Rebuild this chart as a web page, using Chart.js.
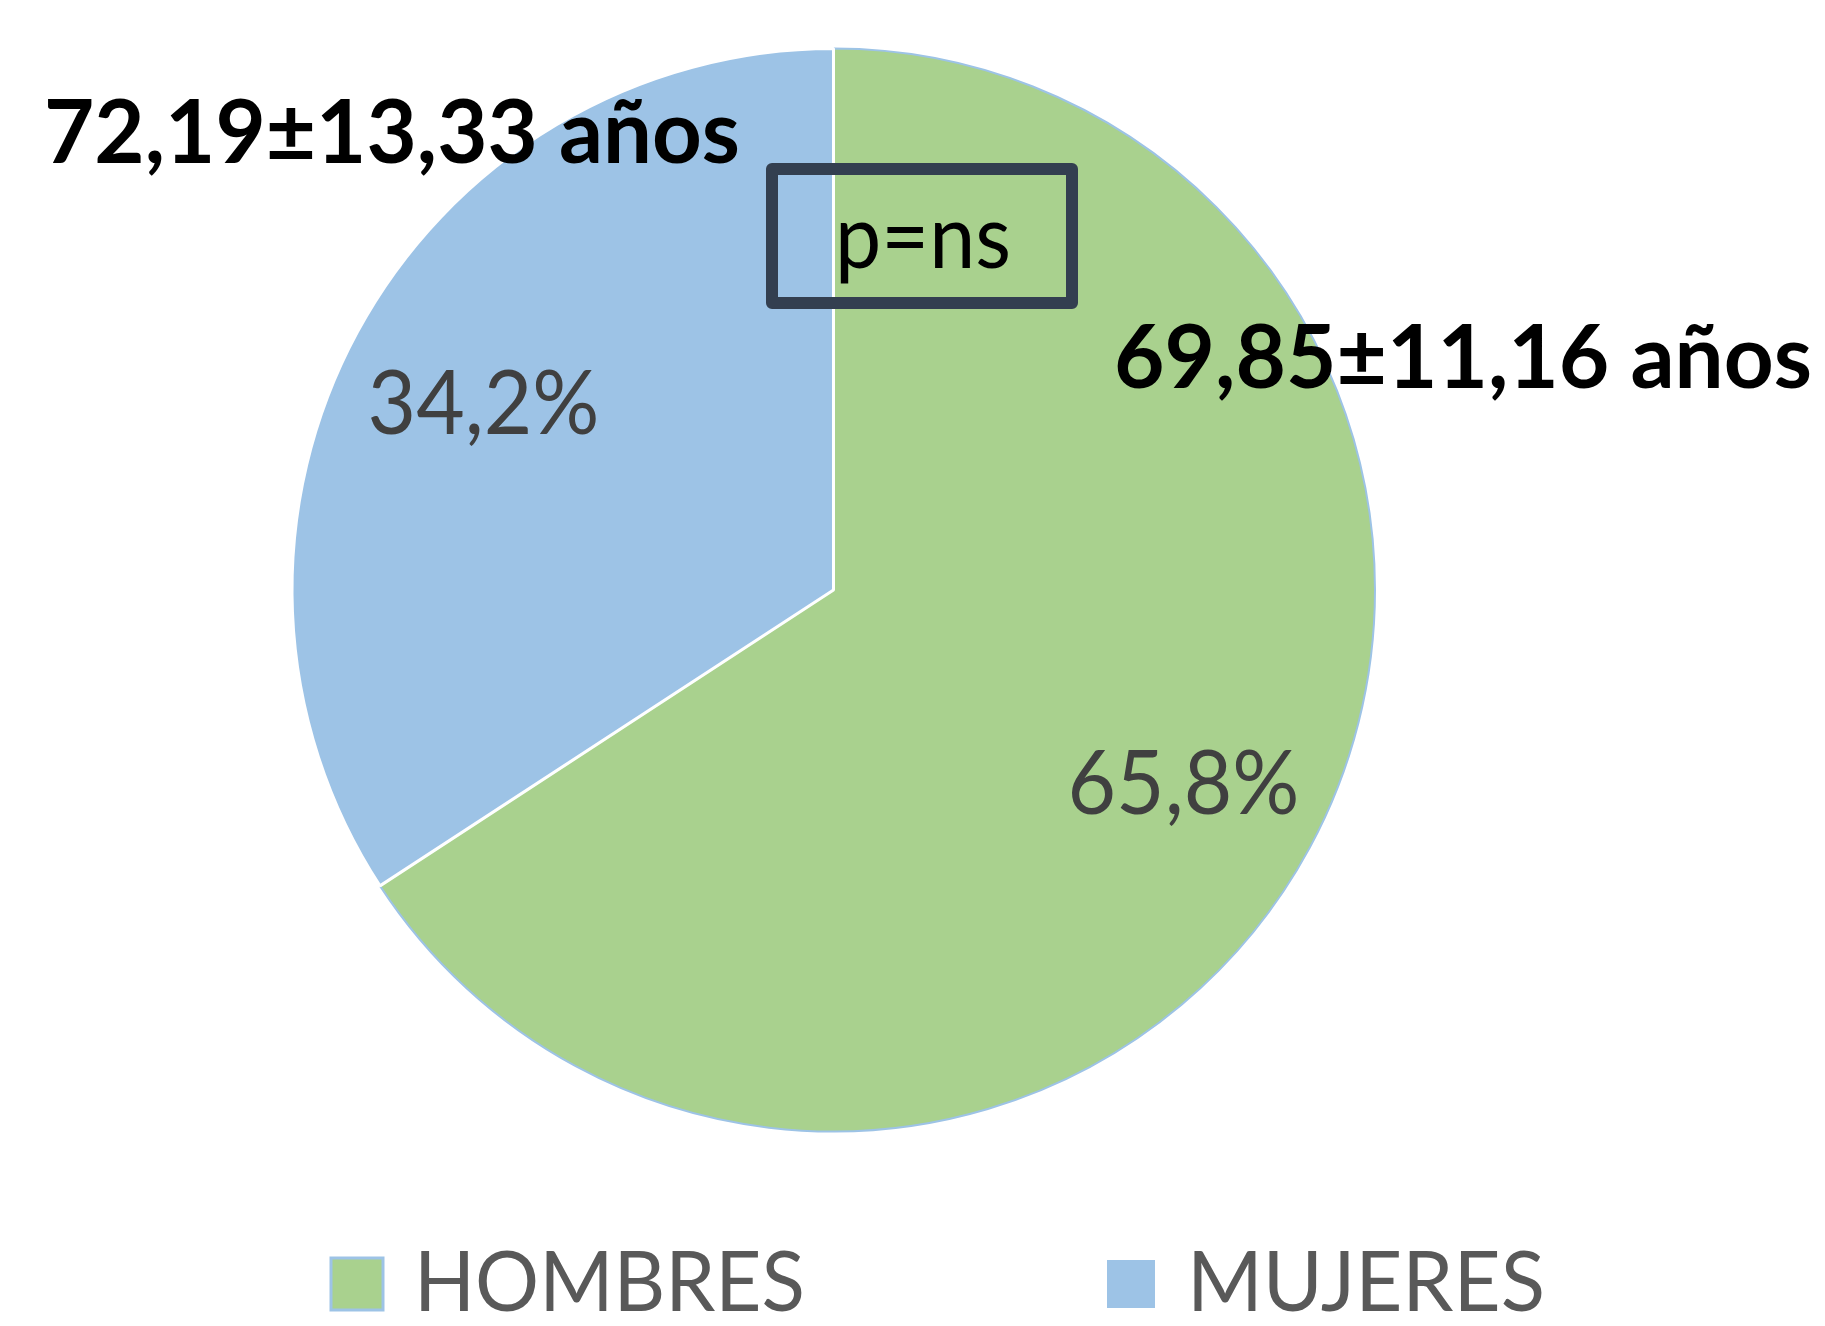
<!DOCTYPE html>
<html>
<head>
<meta charset="utf-8">
<script src="https://cdn.jsdelivr.net/npm/chart.js"></script>
<style>
  html, body { margin: 0; padding: 0; background: #fff; }
  #wrap { width: 1825px; height: 1326px; }
</style>
</head>
<body>
<div id="wrap"><canvas id="grafico"></canvas></div>
<script>
// datos
const categorias = ['HOMBRES', 'MUJERES'];
const porcentajes = [65.8, 34.2];
const edades = ['69,85±11,16 años', '72,19±13,33 años'];
const textoP = 'p=ns';

const colores = ['#A9D18E', '#9DC3E6'];

// texto estirado/comprimido al ancho deseado
function textoAjustado(ctx, texto, x, base, ancho, fuente, color) {
    ctx.save();
    ctx.font = fuente;
    const w = ctx.measureText(texto).width;
    ctx.translate(x, base);
    ctx.scale(ancho / w, 1);
    ctx.fillStyle = color;
    ctx.textBaseline = 'alphabetic';
    ctx.textAlign = 'left';
    ctx.fillText(texto, 0, 0);
    ctx.restore();
}

const etiquetas = {
    id: 'etiquetas',
    afterDraw(chart) {
        const ctx = chart.ctx;
        const arcos = chart.getDatasetMeta(0).data;

        // porcentajes dentro de cada porcion
        arcos.forEach(function (arco, i) {
            const p = arco.getProps(['x', 'y', 'startAngle', 'endAngle', 'outerRadius'], true);
            const medio = (p.startAngle + p.endAngle) / 2;
            const cx = p.x + Math.cos(medio) * p.outerRadius * 0.735;
            const cy = p.y + Math.sin(medio) * p.outerRadius * 0.735;
            const txt = porcentajes[i].toFixed(1).replace('.', ',') + '%';
            textoAjustado(ctx, txt, cx - 116, cy + 34, 232, '90px Lato', '#404040');
        });

        // edades
        textoAjustado(ctx, edades[1], 44, 163, 696, 'bold 88px Lato', '#000');
        textoAjustado(ctx, edades[0], 1114, 388, 698, 'bold 88px Lato', '#000');

        // recuadro p=ns
        ctx.save();
        ctx.strokeStyle = '#333F50';
        ctx.lineWidth = 12;
        ctx.lineJoin = 'round';
        ctx.strokeRect(772, 169, 300, 134);
        ctx.restore();
        textoAjustado(ctx, textoP, 835, 268, 176, '90px Lato', '#000');

        // leyenda
        ctx.save();
        ctx.fillStyle = colores[0];
        ctx.fillRect(331, 1258, 52, 52);
        ctx.strokeStyle = colores[1];
        ctx.lineWidth = 3;
        ctx.strokeRect(331, 1258, 52, 52);
        ctx.fillStyle = colores[1];
        ctx.fillRect(1107, 1260, 48, 48);
        ctx.restore();
        textoAjustado(ctx, categorias[0], 414, 1311, 391, '84px Lato', '#595959');
        textoAjustado(ctx, categorias[1], 1187, 1311, 358, '84px Lato', '#595959');
    }
};

const grafico = document.getElementById('grafico');

new Chart(grafico, {
    type: 'pie',
    data: {
        labels: categorias,
        datasets: [{
            data: porcentajes,
            backgroundColor: colores,
            borderColor: ['#9DC3E6', '#FFFFFF'],
            borderWidth: [2, 3],
            hoverOffset: 0
        }]
    },
    options: {
        responsive: true,
        maintainAspectRatio: false,
        animation: false,
        layout: {
            padding: { top: 47, bottom: 193, left: 0, right: 158 }
        },
        plugins: {
            legend: { display: false },
            tooltip: { enabled: false }
        }
    },
    plugins: [etiquetas]
});
</script>
</body>
</html>
